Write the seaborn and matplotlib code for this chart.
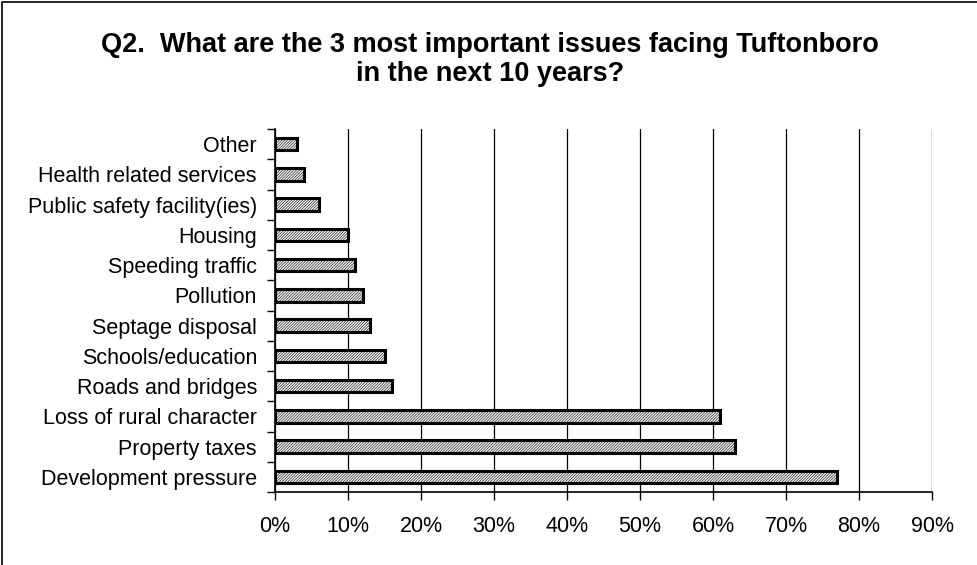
import matplotlib
matplotlib.use('Agg')
import matplotlib.pyplot as plt
import seaborn as sns
import numpy as np
from matplotlib.patches import Rectangle
from matplotlib.ticker import PercentFormatter

# top to bottom as shown
issues = ['Other', 'Health related services', 'Public safety facility(ies)', 'Housing',
          'Speeding traffic', 'Pollution', 'Septage disposal', 'Schools/education',
          'Roads and bridges', 'Loss of rural character', 'Property taxes',
          'Development pressure']
pct = [3, 4, 6, 10, 11, 12, 13, 15, 16, 61, 63, 77]
xticks = [0, 10, 20, 30, 40, 50, 60, 70, 80, 90]

sns.set_style('white')
plt.rcParams['font.family'] = ['Liberation Sans', 'DejaVu Sans']
plt.rcParams['text.color'] = 'black'
plt.rcParams['xtick.color'] = 'black'
plt.rcParams['ytick.color'] = 'black'
plt.rcParams['hatch.linewidth'] = 0.4
plt.rcParams['hatch.color'] = '#707070'

fig = plt.figure(figsize=(9.77, 5.65), dpi=100)
ax = fig.add_axes([275/977, 1 - 492/565, (932 - 275)/977, (492 - 129)/565])

sns.barplot(x=pct, y=issues, orient='h', color='#f4f4f4', width=0.42,
            edgecolor='black', linewidth=2.2, saturation=1, ax=ax, zorder=3)
for p in ax.patches:
    p.set_hatch('/' * 12)

ax.set_xlim(0, 90)
ax.set_ylim(len(issues) - 0.5, -0.5)
ax.set_xticks(xticks)
ax.xaxis.set_major_formatter(PercentFormatter(decimals=0))
ax.grid(axis='x', color='black', linewidth=0.9, zorder=0)
ax.grid(axis='y', visible=False)

ax.set_yticks(np.arange(len(issues) + 1) - 0.5, minor=True)
ax.tick_params(axis='y', which='major', length=0, pad=13, labelsize=15.5)
ax.tick_params(axis='y', which='minor', left=True, length=6, width=1, color='black', direction='out')
ax.tick_params(axis='x', which='major', bottom=True, length=6, width=1, color='black',
               direction='out', pad=11, labelsize=15.5)

for side in ['top', 'right']:
    ax.spines[side].set_visible(False)
for side in ['left', 'bottom']:
    ax.spines[side].set_color('black')
    ax.spines[side].set_linewidth(1.2)
ax.set_xlabel('')
ax.set_ylabel('')

fig.text(490/977, 1 - 60/565, 'Q2.  What are the 3 most important issues facing Tuftonboro\nin the next 10 years?',
         ha='center', va='center', fontsize=19.5, fontweight='bold', linespacing=1.15)

fig.patches.append(Rectangle((2/977, -0.05), 1.1, 1.05 - 2/565, transform=fig.transFigure,
                             fill=False, edgecolor='black', linewidth=1.2))

fig.savefig('out.png', dpi=100)
